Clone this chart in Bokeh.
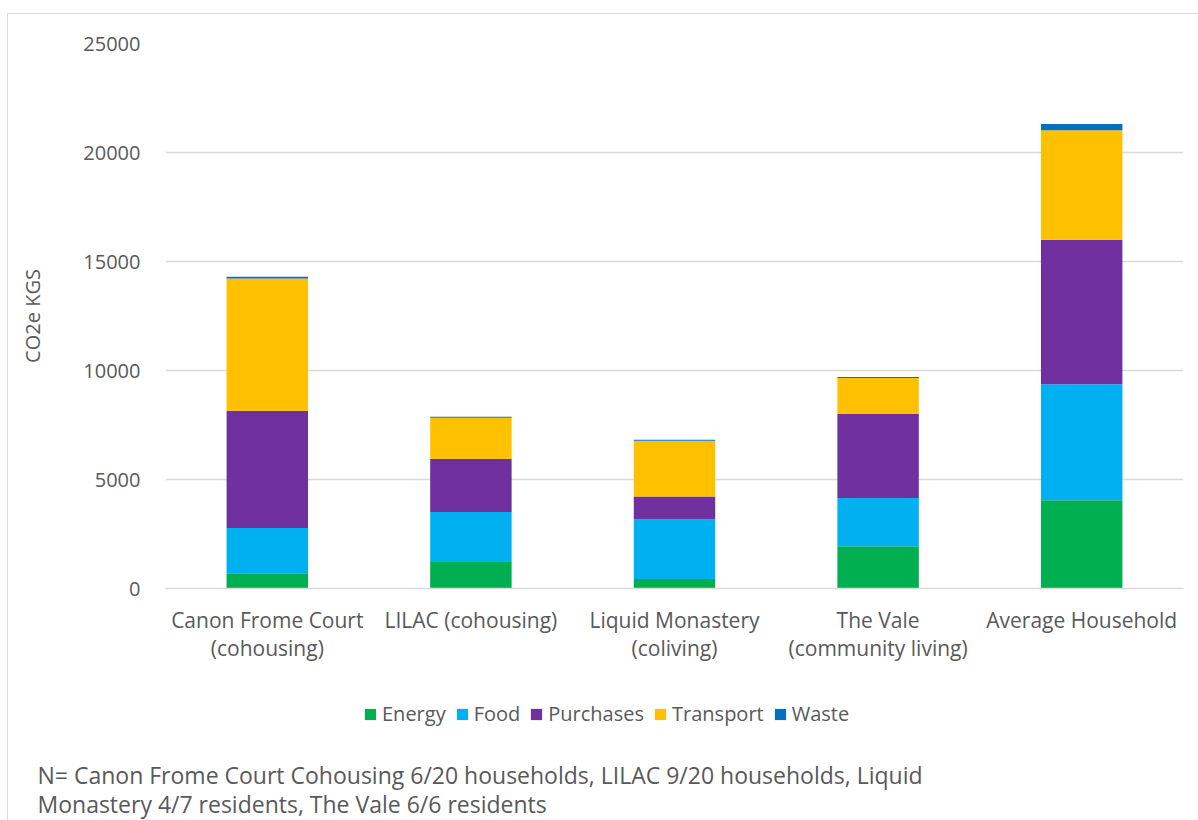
from bokeh.plotting import figure
from bokeh.layouts import column, row
from bokeh.models import FactorRange, Legend, LegendItem, Label, NumeralTickFormatter, FixedTicker, Range1d
from bokeh.embed import file_html
from bokeh.resources import INLINE

categories = ["Canon Frome Court\n(cohousing)", "LILAC (cohousing)", "Liquid Monastery\n(coliving)",
              "The Vale\n(community living)", "Average Household"]
energy = [700, 1210, 440, 1940, 4050]
food = [2080, 2300, 2730, 2210, 5320]
purchases = [5370, 2440, 1050, 3860, 6630]
transport = [6070, 1880, 2560, 1650, 5020]
waste = [80, 45, 45, 45, 290]
series_names = ["Energy", "Food", "Purchases", "Transport", "Waste"]
colors = ["#00B050", "#00B0F0", "#7030A0", "#FFC000", "#0070C0"]
y_ticks = [0, 5000, 10000, 15000, 20000, 25000]
footnote_lines = ["N= Canon Frome Court Cohousing 6/20 households, LILAC 9/20 households, Liquid",
                  "Monastery 4/7 residents, The Vale 6/6 residents"]

FONT = "Open Sans"
TXT = "#595959"
GRID = "#D9D9D9"

data = {"cat": categories, "Energy": energy, "Food": food, "Purchases": purchases,
        "Transport": transport, "Waste": waste}

# ---- main chart ----
p = figure(x_range=FactorRange(*categories), y_range=(0, 25000), width=1190, height=654,
           output_backend="svg", toolbar_location=None,
           min_border_left=157, min_border_right=15, min_border_top=29, min_border_bottom=80)
p.outline_line_color = None

p.vbar_stack(series_names, x="cat", width=0.4, color=colors, source=data, line_width=0)

p.yaxis.ticker = FixedTicker(ticks=y_ticks)
p.yaxis.formatter = NumeralTickFormatter(format="0")
p.yaxis.axis_line_color = None
p.yaxis.major_tick_line_color = None
p.yaxis.minor_tick_line_color = None
p.yaxis.major_label_text_font = FONT
p.yaxis.major_label_text_font_size = "20px"
p.yaxis.major_label_text_color = TXT
p.yaxis.major_label_standoff = 19
p.yaxis.axis_label = "CO2e KGS"
p.yaxis.axis_label_text_font = FONT
p.yaxis.axis_label_text_font_size = "20px"
p.yaxis.axis_label_text_font_style = "normal"
p.yaxis.axis_label_text_color = TXT
p.yaxis.axis_label_standoff = 34

p.xaxis.axis_line_color = GRID
p.xaxis.axis_line_width = 1.5
p.xaxis.major_tick_line_color = None
p.xaxis.minor_tick_line_color = None
p.xaxis.major_label_text_font = FONT
p.xaxis.major_label_text_font_size = "21px"
p.xaxis.major_label_text_color = TXT
p.xaxis.major_label_text_line_height = 1.02
p.xaxis.major_label_standoff = 11

p.xgrid.grid_line_color = None
p.ygrid.grid_line_color = GRID
p.ygrid.grid_line_width = 1.3

# ---- legend + footnote strip ----
W2, H2 = 1190, 152
p2 = figure(width=W2, height=H2, x_range=Range1d(0, W2), y_range=Range1d(0, H2),
            output_backend="svg", toolbar_location=None,
            x_axis_type=None, y_axis_type=None,
            min_border_left=0, min_border_right=0, min_border_top=0, min_border_bottom=0)
p2.outline_line_color = None
p2.grid.visible = False

# swatch renderers for the legend, parked outside the visible range
swatches = [p2.vbar(x=[-100], top=[0], width=1, fill_color=c, line_color=None) for c in colors]
legend = Legend(items=[LegendItem(label=n, renderers=[r]) for n, r in zip(series_names, swatches)],
                orientation="horizontal", location=(355, 93),
                label_text_font=FONT, label_text_font_size="20px", label_text_color=TXT,
                glyph_width=14, glyph_height=14, label_standoff=5, spacing=9,
                padding=0, margin=0, border_line_color=None, background_fill_alpha=0,
                label_height=20)
p2.add_layout(legend)

for i, line in enumerate(footnote_lines):
    p2.add_layout(Label(x=29, y=46 - 29 * i, x_units="screen", y_units="screen", text=line,
                        text_font=FONT, text_font_size="23px", text_color=TXT,
                        text_baseline="middle", text_align="left"))

layout = column(p, row(p2, spacing=0), spacing=0,
                styles={"border-left": "1px solid #D9D9D9", "border-top": "1px solid #D9D9D9",
                        "margin-left": "7px", "margin-top": "13px"})

open("out.html", "w").write(file_html(layout, INLINE))
